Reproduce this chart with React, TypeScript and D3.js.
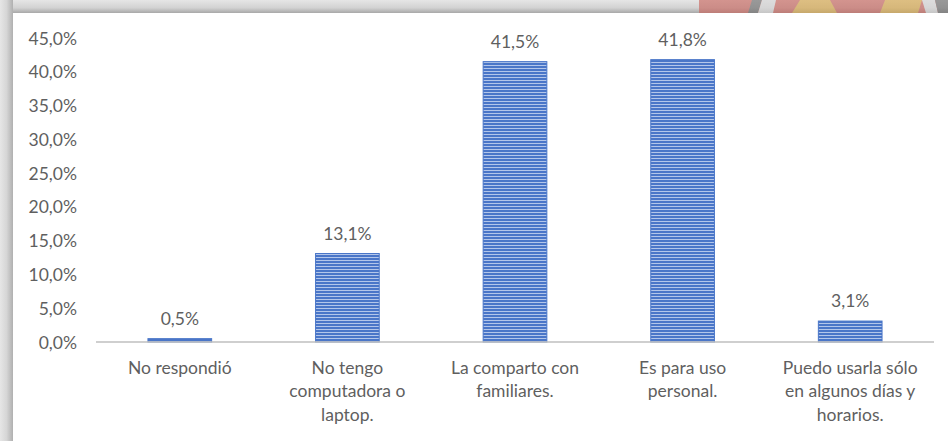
import React from "react";
import * as d3 from "d3";

const categories: string[][] = [
  ["No respondió"],
  ["No tengo", "computadora o", "laptop."],
  ["La comparto con", "familiares."],
  ["Es para uso", "personal."],
  ["Puedo usarla sólo", "en algunos días y", "horarios."],
];
const values: number[] = [0.5, 13.1, 41.5, 41.8, 3.1];
const valueLabels: string[] = ["0,5%", "13,1%", "41,5%", "41,8%", "3,1%"];
const yTicks: number[] = [0, 5, 10, 15, 20, 25, 30, 35, 40, 45];

const W = 948;
const H = 441;
const FONT = "Lato, 'Liberation Sans', sans-serif";
const TXT = "#5f5f5f";
const FS = 17.5;

export default function App() {
  const x = d3
    .scaleBand<number>()
    .domain(values.map((_, i) => i))
    .range([96, 934])
    .paddingInner(0.62)
    .paddingOuter(0.31);
  const y = d3.scaleLinear().domain([0, 45]).range([342, 38]);
  const fmt = (v: number) => v.toFixed(1).replace(".", ",") + "%";

  return (
    <div style={{ position: "absolute", left: 0, top: 0, width: W, height: H }}>
      <svg width={W} height={H} style={{ display: "block" }}>
        <defs>
          <pattern id="stripes" width="6" height="3" patternUnits="userSpaceOnUse">
            <rect width="6" height="3" fill="#4a76c8" />
            <rect y="2" width="6" height="1" fill="#b3c6ea" />
          </pattern>
          <linearGradient id="topB" x1="0" y1="0" x2="0" y2="1">
            <stop offset="0" stopColor="#e6e6e6" />
            <stop offset="0.6" stopColor="#d2d2d2" />
            <stop offset="1" stopColor="#a8a8a8" />
          </linearGradient>
          <linearGradient id="leftB" x1="0" y1="0" x2="1" y2="0">
            <stop offset="0" stopColor="#e6e6e6" />
            <stop offset="0.5" stopColor="#d6d6d6" />
            <stop offset="1" stopColor="#b0b0b0" />
          </linearGradient>
        </defs>
        <rect width={W} height={H} fill="#ffffff" />
        {/* frame */}
        <rect x={0} y={0} width={W} height={13} fill="url(#topB)" />
        <rect x={0} y={0} width={13} height={H} fill="url(#leftB)" />
        {/* decoration top right */}
        <g opacity={0.85}>
          <rect x={699} y={0} width={249} height={13} fill="#c9665e" />
          <polygon points="752,0 762,0 758,13 748,13" fill="#6e6e6e" />
          <polygon points="762,0 776,0 773,13 758,13" fill="#d8d8d8" />
          <polygon points="800,0 830,0 837,13 792,13" fill="#d9a94a" />
          <polygon points="885,0 922,0 918,13 880,13" fill="#d9a94a" />
          <polygon points="922,0 935,0 938,13 926,13" fill="#d8d8d8" />
          <polygon points="935,0 948,0 948,13 938,13" fill="#6e6e6e" />
        </g>
        <rect x={699} y={0} width={249} height={13} fill="url(#topB)" opacity={0.25} />

        {/* y axis labels */}
        {yTicks.map((t) => (
          <text
            key={t}
            x={77}
            y={y(t) + 6.5}
            textAnchor="end"
            fontFamily={FONT}
            fontSize={FS}
            fill={TXT}
          >
            {fmt(t)}
          </text>
        ))}

        {/* bars */}
        {values.map((v, i) => (
          <rect
            key={i}
            x={x(i)}
            y={y(v)}
            width={x.bandwidth()}
            height={y(0) - y(v)}
            fill="url(#stripes)"
            stroke="#4a76c8"
            strokeWidth={1}
          />
        ))}

        {/* axis line */}
        <line x1={96} x2={934} y1={y(0)} y2={y(0)} stroke="#bfbfbf" strokeWidth={1.5} />

        {/* value labels */}
        {values.map((v, i) => (
          <text
            key={i}
            x={(x(i) as number) + x.bandwidth() / 2}
            y={y(v) - 14}
            textAnchor="middle"
            fontFamily={FONT}
            fontSize={FS}
            fill={TXT}
          >
            {valueLabels[i]}
          </text>
        ))}

        {/* category labels */}
        {categories.map((lines, i) => (
          <text
            key={i}
            x={(x(i) as number) + x.bandwidth() / 2}
            y={373.5}
            textAnchor="middle"
            fontFamily={FONT}
            fontSize={FS}
            fill={TXT}
          >
            {lines.map((l, j) => (
              <tspan key={j} x={(x(i) as number) + x.bandwidth() / 2} dy={j === 0 ? 0 : 23.5}>
                {l}
              </tspan>
            ))}
          </text>
        ))}
      </svg>
    </div>
  );
}
